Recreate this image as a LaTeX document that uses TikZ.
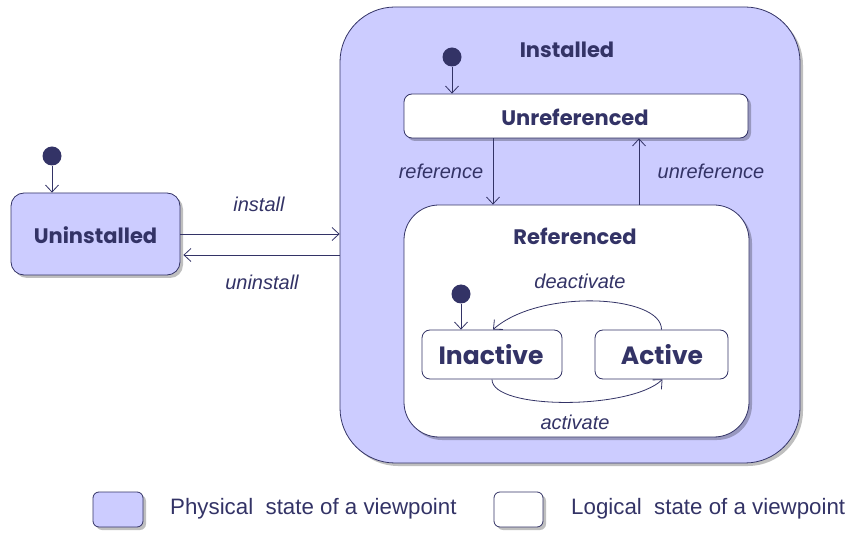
\documentclass[tikz,border=0pt]{standalone}
\usepackage{fontspec}
\setmainfont{Liberation Sans}
\newfontfamily\gothic{Poppins}
\usetikzlibrary{arrows.meta,shadows,calc}
\definecolor{lav}{RGB}{204,204,255}
\definecolor{navy}{RGB}{51,51,102}
\tikzset{
  stateshadow/.style={drop shadow={shadow xshift=3pt,shadow yshift=-3pt,opacity=0.25,fill=black}},
  phys/.style={draw=navy,fill=lav,line width=0.8pt,stateshadow},
  logi/.style={draw=navy,fill=white,line width=0.8pt,stateshadow},
  title/.style={text=navy,font=\gothic\bfseries\fontsize{21}{24}\selectfont,inner sep=0pt},
  bigtitle/.style={text=navy,font=\gothic\bfseries\fontsize{25}{28}\selectfont,inner sep=0pt},
  lbl/.style={text=navy,font=\itshape\fontsize{20}{23}\selectfont,inner sep=0pt},
  legtext/.style={text=navy,font=\fontsize{22.3}{26}\selectfont,inner sep=0pt,anchor=west},
  arr/.style={draw=navy,line width=0.8pt,-{Straight Barb[length=7pt,width=13pt,line width=0.8pt]}},
  initdot/.style={circle,fill=navy,minimum size=19pt,inner sep=0pt},
}
\begin{document}
\begin{tikzpicture}[x=1pt,y=-1pt]
\useasboundingbox (0,0) rectangle (852,537);
% Uninstalled
\node[phys,rounded corners=13pt,minimum width=169pt,minimum height=82pt,inner sep=0pt] (uninst) at (95.5,234) {};
\node[title] (uninstT) at (95.5,235) {Uninstalled};
\node[initdot] (i1) at (52,156) {};
\draw[arr] (i1.south) -- (i1.south |- uninst.north);
% Installed
\node[phys,rounded corners=55pt,minimum width=460pt,minimum height=456pt,inner sep=0pt] (inst) at (570,235) {};
\node[title] (instT) at (567,50) {Installed};
\node[initdot] (i2) at (452,57) {};
% Unreferenced
\node[logi,rounded corners=8pt,minimum width=344pt,minimum height=44pt,inner sep=0pt] (unref) at (576,116) {};
\node[title] (unrefT) at (575,117) {Unreferenced};
\draw[arr] (i2.south) -- (i2.south |- unref.north);
% Referenced
\node[logi,rounded corners=35pt,minimum width=345pt,minimum height=232pt,inner sep=0pt] (ref) at (576.5,321) {};
\node[title] (refT) at (575,236) {Referenced};
\node[initdot] (i3) at (461,294) {};
% Inactive / Active
\node[draw=navy,fill=white,line width=0.8pt,rounded corners=8pt,minimum width=140pt,minimum height=49pt,inner sep=0pt] (inact) at (492,354.5) {};
\node[bigtitle] (inactT) at (491,355) {Inactive};
\node[draw=navy,fill=white,line width=0.8pt,rounded corners=8pt,minimum width=133pt,minimum height=49pt,inner sep=0pt] (act) at (661.5,354.5) {};
\node[bigtitle] (actT) at (662,355) {Active};
\draw[arr] (i3.south) -- (i3.south |- inact.north);
% transitions
\coordinate (refx) at (493,0);
\coordinate (unrefx) at (639,0);
\draw[arr] (refx |- unref.south) -- (refx |- ref.north);
\draw[arr] (unrefx |- ref.north) -- (unrefx |- unref.south);
\node[lbl] (refL) at (441,171) {reference};
\node[lbl] (unrefL) at (711,171) {unreference};
\draw[arr] (uninst.east) -- (uninst.east -| inst.west);
\draw[arr] ($(inst.west |- uninst.east)+(0,21)$) -- ($(uninst.east)+(3,21)$);
\node[lbl] (instL) at (259,204) {install};
\node[lbl] (uninstL) at (262,282) {uninstall};
\draw[arr] (act.north) .. controls (662,295) and (540,288) .. ($(inact.north)+(1,0)$);
\draw[arr] ($(inact.south)+(0,0)$) .. controls (492,410) and (630,410) .. ($(act.south)+(1,0)$);
\node[lbl] (deactL) at (580,281) {deactivate};
\node[lbl] (actL) at (575,422) {activate};
% legend
\node[phys,rounded corners=6pt,minimum width=50pt,minimum height=35pt,inner sep=0pt] (leg1) at (118,509.5) {};
\node[legtext] (leg1T) at (170,509) {Physical\ \ state of a viewpoint};
\node[logi,rounded corners=6pt,minimum width=49pt,minimum height=35pt,inner sep=0pt] (leg2) at (518.5,509.5) {};
\node[legtext] (leg2T) at (571,509) {Logical\ \ state of a viewpoint};
\end{tikzpicture}
\end{document}
